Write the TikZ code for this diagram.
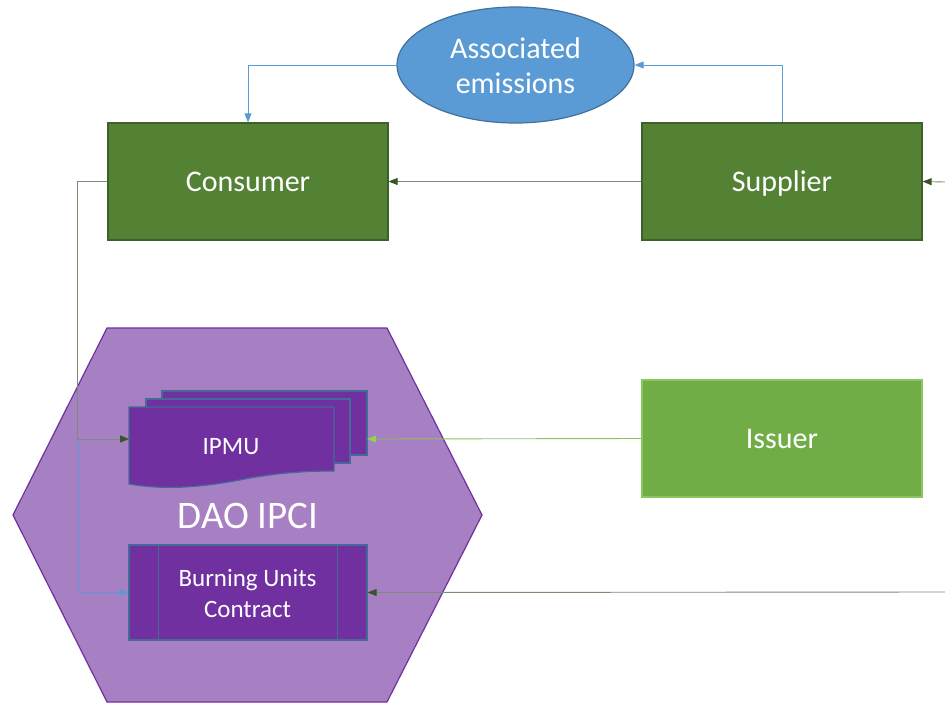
\documentclass[tikz,border=0pt]{standalone}
\usepackage{fontspec}
\setmainfont{Carlito}
\usetikzlibrary{arrows.meta,shapes.geometric,calc}
\definecolor{dgreen}{HTML}{548235}
\definecolor{dgreenB}{HTML}{3D6128}
\definecolor{lgreen}{HTML}{70AD47}
\definecolor{lgreenB}{HTML}{8CC65E}
\definecolor{eblue}{HTML}{5B9BD5}
\definecolor{eblueB}{HTML}{41719C}
\definecolor{hexfill}{HTML}{A780C4}
\definecolor{hexB}{HTML}{7030A0}
\definecolor{purp}{HTML}{7030A0}
\definecolor{purpB}{HTML}{44699A}
\definecolor{linegray}{HTML}{7D8C75}
\definecolor{arrdark}{HTML}{375623}
\definecolor{lineblue}{HTML}{5B9BD5}
\definecolor{linelg}{HTML}{8DBF62}
\definecolor{arrlg}{HTML}{92D050}
\tikzset{
  gbox/.style={draw=dgreenB, line width=1.2pt, fill=dgreen, text=white,
    minimum width=280pt, minimum height=117pt, inner sep=0pt,
    font=\fontsize{30}{36}\selectfont, text height=19.4pt, text depth=0pt},
  ibox/.style={gbox, draw=lgreenB, fill=lgreen},
  wtext/.style={text=white, inner sep=0pt, align=center},
  darr/.style={draw=linegray, line width=0.9pt, -{Triangle[length=9pt,width=7pt,fill=arrdark,color=arrdark]}},
  barr/.style={draw=lineblue, line width=0.9pt, -{Triangle[length=9pt,width=7pt,fill=lineblue,color=lineblue]}},
  garr/.style={draw=linelg, line width=0.9pt, -{Triangle[length=9pt,width=7pt,fill=arrlg,color=arrlg]}},
  docshape/.style={draw=purpB, line width=1.2pt, fill=purp},
}
\begin{document}
\begin{tikzpicture}[x=1pt,y=-1pt]
\useasboundingbox (0,0) rectangle (945,702);
% hexagon
\draw[draw=hexB, line width=1.2pt, fill=hexfill] (107,328) -- (387,328) -- (482,515) -- (387,702) -- (107,702) -- (13,515) -- cycle;
\node[wtext, font=\fontsize{39}{44}\selectfont, text height=25.1pt, text depth=0pt] (dao) at (248,516) {DAO IPCI};
% boxes
\node[gbox] (consumer) at (248,181.5) {Consumer};
\node[gbox] (supplier) at (782,181.5) {Supplier};
\node[ibox] (issuer) at (782,438.5) {Issuer};
% ellipse
\node[ellipse, draw=eblueB, line width=1.2pt, fill=eblue, minimum width=237pt, minimum height=116pt, inner sep=0pt] (em) at (515.5,65) {};
\node[wtext, font=\fontsize{30}{35}\selectfont] (emtext) at (515.5,65.5) {Associated\\emissions};
% IPMU multi-document
\draw[docshape] (162,391) rectangle (367,455);
\draw[docshape] (146,399) rectangle (350,463);
\draw[docshape] (129,407) -- (334,407) -- (334,471) .. controls (310,471) and (285,472) .. (250,478) .. controls (220,484) and (175,492) .. (129,484) -- cycle;
\node[wtext, font=\fontsize{25}{30}\selectfont, text height=16.1pt, text depth=0pt] (ipmu) at (231,446) {IPMU};
\coordinate (ipmuL) at (129,439);
\coordinate (ipmuR) at (367,439);
% Burning units contract
\node[draw=purpB, line width=1.2pt, fill=purp, minimum width=238pt, minimum height=95pt, inner sep=0pt] (burn) at (248,592.5) {};
\draw[draw=purpB, line width=1.2pt] ($(burn.north west)+(30,0)$) -- ($(burn.south west)+(30,0)$);
\draw[draw=purpB, line width=1.2pt] ($(burn.north east)+(-30,0)$) -- ($(burn.south east)+(-30,0)$);
\node[wtext, font=\fontsize{25}{31}\selectfont] (burntext) at (247.5,593.5) {Burning Units\\Contract};
% connectors
\coordinate (rin1) at (945,182);
\coordinate (rin2) at (945,592);
\coordinate (jn) at (78,439);
\draw[darr] (supplier.west) -- (consumer.east);
\draw[darr] (rin1) -- (supplier.east);
\draw[barr] (em.west) -| (consumer.north);
\draw[barr] (supplier.north) |- (em.east);
\draw[barr] (jn) |- (burn.west);
\draw[darr] (consumer.west) -- ++(-30,0) |- (ipmuL);
\draw[garr] (issuer.west) -- (ipmuR);
\draw[darr] (rin2) -- (burn.east);
\end{tikzpicture}
\end{document}
